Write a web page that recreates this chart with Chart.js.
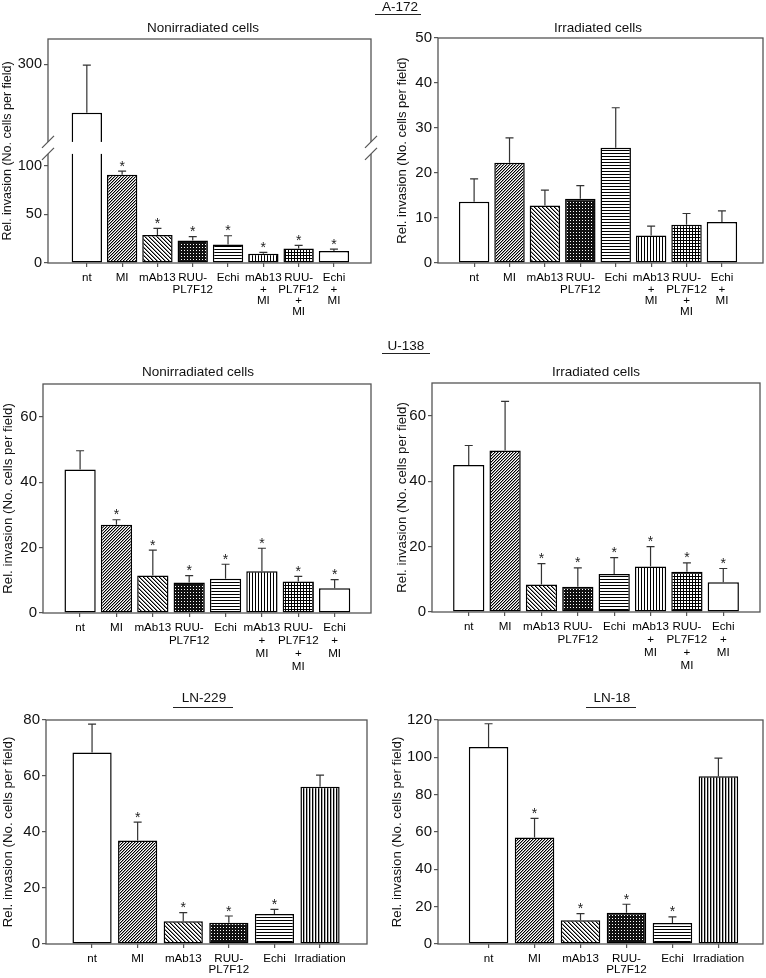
<!DOCTYPE html>
<html>
<head>
<meta charset="utf-8">
<script src="https://cdn.jsdelivr.net/npm/chart.js@4.4.1/dist/chart.umd.min.js"></script>
<style>
  html, body { margin: 0; padding: 0; background: #fff; }
  #page { position: relative; width: 766px; height: 978px; overflow: hidden;
          font-family: "Liberation Sans", Arial, sans-serif; color: #111; }
  #page canvas { position: absolute; }
  .lbl { position: absolute; font-size: 13.5px; line-height: 1; white-space: nowrap;
         transform: translate(-50%, -50%); }
  .rule { position: absolute; height: 0; border-top: 1.5px solid #222; }
</style>
</head>
<body>
<div id="page">
  <canvas id="c1" width="383" height="325" style="left:0;top:0"></canvas>
  <canvas id="c2" width="383" height="325" style="left:383px;top:0"></canvas>
  <canvas id="c3" width="383" height="345" style="left:0;top:330px"></canvas>
  <canvas id="c4" width="383" height="345" style="left:383px;top:330px"></canvas>
  <canvas id="c5" width="383" height="313" style="left:0;top:665px"></canvas>
  <canvas id="c6" width="383" height="313" style="left:383px;top:665px"></canvas>

  <div class="lbl" style="left:400px;top:7px">A-172</div>
  <div class="rule" style="left:375px;top:14px;width:46px"></div>
  <div class="lbl" style="left:203px;top:28px">Nonirradiated cells</div>
  <div class="lbl" style="left:598px;top:28px">Irradiated cells</div>

  <div class="lbl" style="left:406px;top:346px">U-138</div>
  <div class="rule" style="left:382px;top:353px;width:48px"></div>
  <div class="lbl" style="left:198px;top:372px">Nonirradiated cells</div>
  <div class="lbl" style="left:596px;top:372px">Irradiated cells</div>

  <div class="lbl" style="left:204px;top:698px">LN-229</div>
  <div class="rule" style="left:173px;top:707px;width:60px"></div>
  <div class="lbl" style="left:612px;top:698px">LN-18</div>
  <div class="rule" style="left:586px;top:707px;width:50px"></div>
</div>

<script>
// ---- data ----
const comboLabels = ["nt", "MI", "mAb13", ["RUU-", "PL7F12"], "Echi",
    ["mAb13", "+", "MI"], ["RUU-", "PL7F12", "+", "MI"], ["Echi", "+", "MI"]];
const lnLabels = ["nt", "MI", "mAb13", ["RUU-", "PL7F12"], "Echi", "Irradiation"];

const a172NonMean = [250, 90.5, 28.7, 23.2, 19.0, 9.5, 15.0, 12.3];
const a172NonErr  = [49, 3.8, 6.8, 3.8, 9.0, 1.4, 3.0, 2.0];
const a172NonSig  = [0, 1, 1, 1, 1, 1, 1, 1];
const a172NonTicks = [0, 50, 100, 300];

const a172IrrMean = [13.6, 22.3, 12.8, 14.3, 25.6, 6.1, 8.5, 9.1];
const a172IrrErr  = [5.1, 5.5, 3.4, 2.9, 8.9, 2.1, 2.5, 2.5];
const a172IrrSig  = [0, 0, 0, 0, 0, 0, 0, 0];
const a172IrrTicks = [0, 10, 20, 30, 40, 50];

const u138NonMean = [43.9, 27.0, 11.5, 9.3, 10.5, 12.8, 9.6, 7.6];
const u138NonErr  = [5.7, 1.5, 7.7, 2.1, 4.4, 7.0, 1.6, 2.6];
const u138NonSig  = [0, 1, 1, 1, 1, 1, 1, 1];

const u138IrrMean = [44.9, 49.4, 8.4, 7.7, 11.6, 13.9, 12.3, 9.1];
const u138IrrErr  = [6.0, 15.0, 6.4, 5.8, 5.0, 6.1, 2.7, 4.2];
const u138IrrSig  = [0, 0, 1, 1, 1, 1, 1, 1];
const u138Ticks = [0, 20, 40, 60];

const ln229Mean = [68.4, 37.0, 8.1, 7.6, 10.7, 56.2];
const ln229Err  = [10.1, 6.5, 3.1, 2.4, 1.7, 4.1];
const ln229Sig  = [0, 1, 1, 1, 1, 0];
const ln229Ticks = [0, 20, 40, 60, 80];

const ln18Mean = [105.5, 57.0, 12.7, 16.8, 11.3, 89.8];
const ln18Err  = [12.5, 10.3, 3.6, 4.5, 3.2, 9.8];
const ln18Sig  = [0, 1, 1, 1, 1, 0];
const ln18Ticks = [0, 20, 40, 60, 80, 100, 120];

// ---- styles ----
const FONT = '"Liberation Sans", Arial, sans-serif';
const AXIS = '#555';
const FILLS_8 = ['none', 'diagUp', 'diagDown', 'dots', 'hlines', 'vlines', 'grid', 'none'];
const FILLS_6 = ['none', 'diagUp', 'diagDown', 'dots', 'hlines', 'vbars'];

function makePattern(kind) {
    if (kind === 'none') return '#fff';
    const c = document.createElement('canvas');
    const g = c.getContext('2d');
    const sizes = { diagUp: 3, diagDown: 4, dots: 3, hlines: 3, vlines: 3, grid: 3, vbars: 3 };
    const n = sizes[kind];
    c.width = n; c.height = n;
    g.fillStyle = '#fff';
    g.fillRect(0, 0, n, n);
    g.fillStyle = '#000';
    if (kind === 'diagUp') {
        for (let i = 0; i < n; i++) {
            g.fillStyle = '#000'; g.fillRect(i, n - 1 - i, 1, 1);
            g.fillStyle = '#999'; g.fillRect((i + 1) % n, n - 1 - i, 1, 1);
        }
    } else if (kind === 'diagDown') {
        for (let i = 0; i < n; i++) {
            g.fillStyle = '#000'; g.fillRect(i, i, 1, 1);
            g.fillStyle = '#888'; g.fillRect((i + 1) % n, i, 1, 1);
        }
    } else if (kind === 'dots') {
        g.fillStyle = '#111';
        g.fillRect(0, 0, n, n);
        g.fillStyle = '#fff';
        g.fillRect(1, 1, 1, 1);
    } else if (kind === 'hlines') {
        g.fillRect(0, 0, n, 1);
    } else if (kind === 'vlines') {
        g.fillRect(0, 0, 1, n);
    } else if (kind === 'grid') {
        g.fillRect(0, 0, n, 1);
        g.fillRect(0, 0, 1, n);
    } else if (kind === 'vbars') {
        g.fillRect(0, 0, 1, n);
        g.fillStyle = '#aaa';
        g.fillRect(1, 0, 1, n);
    }
    return g.createPattern(c, 'repeat');
}

// linear scale with a gap between two value ranges
class BrokenScale extends Chart.LinearScale {
    getPixelForValue(value) {
        const b = this.options.brk;
        const h = this.bottom - this.top;
        const lowH = h * b.lowFrac, gapH = h * b.gapFrac, upH = h - lowH - gapH;
        if (value <= b.low) return this.bottom - (value - this.min) / (b.low - this.min) * lowH;
        if (value >= b.high) return this.bottom - lowH - gapH - (value - b.high) / (this.max - b.high) * upH;
        return this.bottom - lowH - gapH / 2;
    }
    getValueForPixel(pixel) {
        const b = this.options.brk;
        const h = this.bottom - this.top;
        const lowH = h * b.lowFrac, gapH = h * b.gapFrac, upH = h - lowH - gapH;
        const d = this.bottom - pixel;
        if (d <= lowH) return this.min + d / lowH * (b.low - this.min);
        if (d >= lowH + gapH) return b.high + (d - lowH - gapH) / upH * (this.max - b.high);
        return (b.low + b.high) / 2;
    }
}
BrokenScale.id = 'broken';
Chart.register(BrokenScale);

function makePanel(geo, labels, means, errs, sig, yTicks, yMax, fills, brk) {
    const [cl, ct, cr, cb] = geo.plot;
    const padLeft = Math.max(0, geo.yTitleX - geo.L - 7.8);

    const framePlugin = {
        id: 'frame',
        afterDatasetsDraw(chart) {
            const { ctx, chartArea: a } = chart;
            ctx.save();
            ctx.strokeStyle = AXIS;
            ctx.lineWidth = 1.3;
            ctx.strokeRect(a.left, a.top, a.right - a.left, a.bottom - a.top);
            ctx.restore();
        }
    };

    const errPlugin = {
        id: 'errbars',
        afterDatasetsDraw(chart) {
            const { ctx } = chart;
            const ys = chart.scales.y;
            const meta = chart.getDatasetMeta(0);
            ctx.save();
            ctx.strokeStyle = '#333';
            ctx.lineWidth = 1.2;
            ctx.fillStyle = '#222';
            ctx.font = '14px ' + FONT;
            ctx.textAlign = 'center';
            ctx.textBaseline = 'alphabetic';
            meta.data.forEach((bar, i) => {
                const top = ys.getPixelForValue(means[i] + errs[i]);
                ctx.beginPath();
                ctx.moveTo(bar.x, bar.y);
                ctx.lineTo(bar.x, top);
                ctx.moveTo(bar.x - 4, top);
                ctx.lineTo(bar.x + 4, top);
                ctx.stroke();
                if (sig[i]) ctx.fillText('*', bar.x, top - 0.5);
            });
            ctx.restore();
        }
    };

    const breakPlugin = {
        id: 'axisbreak',
        afterDatasetsDraw(chart) {
            if (!brk) return;
            const { ctx, chartArea: a } = chart;
            const h = a.bottom - a.top;
            const yBot = a.bottom - h * brk.lowFrac;
            const yTop = yBot - h * brk.gapFrac;
            ctx.save();
            ctx.fillStyle = '#fff';
            ctx.fillRect(a.left - 2, yTop, a.right - a.left + 4, yBot - yTop);
            ctx.strokeStyle = AXIS;
            ctx.lineWidth = 1.2;
            [a.left, a.right].forEach((x) => {
                [yTop, yBot].forEach((y) => {
                    ctx.beginPath();
                    ctx.moveTo(x - 6, y + 6);
                    ctx.lineTo(x + 6, y - 6);
                    ctx.stroke();
                });
            });
            ctx.restore();
        }
    };

    new Chart(document.getElementById(geo.id), {
        type: 'bar',
        data: {
            datasets: [{
                data: means.map((v, i) => ({ x: i, y: v })),
                backgroundColor: fills.map(makePattern),
                borderColor: '#000',
                borderWidth: 1.5,
                borderSkipped: false,
                barPercentage: 0.86,
                categoryPercentage: 1
            }]
        },
        options: {
            responsive: false,
            animation: false,
            layout: { padding: { left: padLeft, right: geo.L + geo.W - cr, top: ct - geo.T, bottom: 0 } },
            plugins: { legend: { display: false }, tooltip: { enabled: false } },
            scales: {
                x: {
                    type: 'linear',
                    offset: false,
                    min: geo.xMin,
                    max: geo.xMax,
                    afterBuildTicks: (s) => { s.ticks = labels.map((_, i) => ({ value: i })); },
                    afterFit: (s) => { s.height = geo.T + geo.H - cb; },
                    border: { display: false },
                    grid: { offset: false, drawOnChartArea: false, tickLength: 4, color: AXIS, lineWidth: 1.2 },
                    ticks: {
                        autoSkip: false, maxRotation: 0, minRotation: 0,
                        padding: 11.2 - geo.lh / 2,
                        color: '#000',
                        font: { family: FONT, size: 11.6, lineHeight: geo.lh + 'px' },
                        callback: (v) => labels[v]
                    }
                },
                y: {
                    type: brk ? 'broken' : 'linear',
                    brk: brk,
                    min: 0,
                    max: yMax,
                    afterBuildTicks: (s) => { s.ticks = yTicks.map((v) => ({ value: v })); },
                    afterFit: (s) => { s.width = cl - geo.L - padLeft; },
                    border: { display: false },
                    grid: { drawOnChartArea: false, tickLength: 4, color: AXIS, lineWidth: 1.2 },
                    ticks: { padding: 2, color: '#111', font: { family: FONT, size: geo.yFont } },
                    title: {
                        display: true,
                        text: 'Rel. invasion (No. cells per field)',
                        color: '#111',
                        padding: 0,
                        font: { family: FONT, size: geo.tFont, lineHeight: 1.2 }
                    }
                }
            }
        },
        plugins: [framePlugin, errPlugin, breakPlugin]
    });
}

document.addEventListener('DOMContentLoaded', function () {
    // ===== A-172 =====
    makePanel({ id: 'c1', L: 0, T: 0, W: 383, H: 325, plot: [48, 39, 371, 263], yTitleX: 8,
                xMin: -1.1, xMax: 8.05, lh: 11.3, yFont: 14.5, tFont: 12.5 },
              comboLabels, a172NonMean, a172NonErr, a172NonSig, a172NonTicks, 326, FILLS_8,
              { low: 112, high: 220, lowFrac: 0.487, gapFrac: 0.0535 });
    makePanel({ id: 'c2', L: 383, T: 0, W: 383, H: 325, plot: [438, 38, 763, 263], yTitleX: 402,
                xMin: -1.02, xMax: 8.16, lh: 11.3, yFont: 15, tFont: 13 },
              comboLabels, a172IrrMean, a172IrrErr, a172IrrSig, a172IrrTicks, 50, FILLS_8, null);

    // ===== U-138 =====
    makePanel({ id: 'c3', L: 0, T: 330, W: 383, H: 345, plot: [43, 384, 371, 613], yTitleX: 7.5,
                xMin: -1.02, xMax: 8.0, lh: 12.8, yFont: 15, tFont: 13.3 },
              comboLabels, u138NonMean, u138NonErr, u138NonSig, u138Ticks, 70, FILLS_8, null);
    makePanel({ id: 'c4', L: 383, T: 330, W: 383, H: 345, plot: [432, 383, 760, 612], yTitleX: 402,
                xMin: -1.01, xMax: 8.01, lh: 12.8, yFont: 15, tFont: 13.3 },
              comboLabels, u138IrrMean, u138IrrErr, u138IrrSig, u138Ticks, 70, FILLS_8, null);

    // ===== LN-229 / LN-18 =====
    makePanel({ id: 'c5', L: 0, T: 665, W: 383, H: 313, plot: [46, 720, 367, 944], yTitleX: 7.5,
                xMin: -1.01, xMax: 6.03, lh: 11, yFont: 15, tFont: 13.3 },
              lnLabels, ln229Mean, ln229Err, ln229Sig, ln229Ticks, 80, FILLS_6, null);
    makePanel({ id: 'c6', L: 383, T: 665, W: 383, H: 313, plot: [438, 720, 763, 944], yTitleX: 397,
                xMin: -1.1, xMax: 5.97, lh: 11, yFont: 15, tFont: 13.3 },
              lnLabels, ln18Mean, ln18Err, ln18Sig, ln18Ticks, 120, FILLS_6, null);
});
</script>
</body>
</html>
